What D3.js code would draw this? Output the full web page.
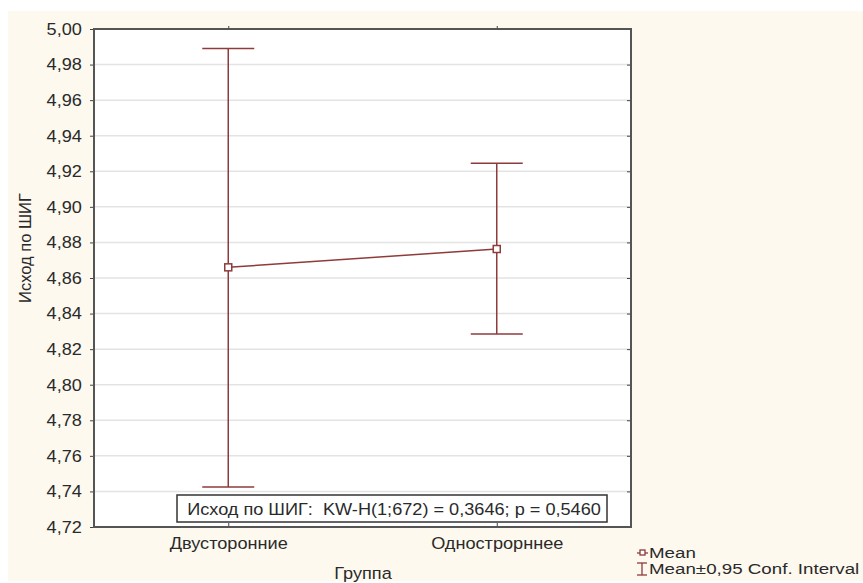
<!DOCTYPE html>
<html>
<head>
<meta charset="utf-8">
<script src="https://cdn.jsdelivr.net/npm/d3@7"></script>
<style>
  body { margin: 0; background: #fff; }
  text { font-family: Arial, "Liberation Sans", sans-serif; }
</style>
</head>
<body>
<div id="chart"></div>
<script>
// data
const groups = ["Двусторонние", "Однострорннее"];
const means = [4.866, 4.8763];
const ciLow = [4.7425, 4.8285];
const ciHigh = [4.989, 4.9245];
const yTicks = [4.72, 4.74, 4.76, 4.78, 4.80, 4.82, 4.84, 4.86, 4.88, 4.90, 4.92, 4.94, 4.96, 4.98, 5.00];
const statText = "Исход по ШИГ:  KW-H(1;672) = 0,3646; p = 0,5460";

const W = 863, H = 583;
const pLeft = 94, pRight = 631, pTop = 29, pBottom = 527;
const red = "#8e3b3b";
const fs = 16.5, sx = 1.1;   // the source text is a bit wide

const svg = d3.select("#chart").append("svg")
    .attr("width", W)
    .attr("height", H);

svg.append("rect")
    .attr("x", 8).attr("y", 11)
    .attr("width", W - 8).attr("height", 570)
    .attr("fill", "#fdf9ef");

svg.append("rect")
    .attr("x", pLeft).attr("y", pTop)
    .attr("width", pRight - pLeft).attr("height", pBottom - pTop)
    .attr("fill", "#fff");

let x = d3.scalePoint()
    .domain(groups)
    .range([pLeft, pRight])
    .padding(0.5);

let y = d3.scaleLinear()
    .domain([4.72, 5.00])
    .range([pBottom, pTop]);

let fmt = d => d3.format(".2f")(d).replace(".", ",");

// put a text at (px,py), stretched a little in x
function label(parent, px, py, str, size, anchor, stretch) {
  return parent.append("text")
      .attr("transform", "translate(" + px + "," + py + ") scale(" + (stretch || sx) + ",1)")
      .attr("text-anchor", anchor || "start")
      .attr("font-size", size || fs)
      .attr("fill", "#2a2a2a")
      .style("white-space", "pre")
      .text(str);
}

// grid
svg.append("g").selectAll("line")
    .data(yTicks.slice(1, -1))
  .enter().append("line")
    .attr("x1", pLeft).attr("x2", pRight)
    .attr("y1", d => y(d)).attr("y2", d => y(d))
    .attr("stroke", "#e3e3e3")
    .attr("stroke-width", 1.5);

// y axis
let yAxis = svg.append("g")
    .attr("transform", "translate(" + pLeft + ",0)")
    .call(d3.axisLeft(y).tickValues(yTicks).tickFormat(fmt).tickSize(4).tickPadding(7));
yAxis.select(".domain").remove();
yAxis.selectAll("line").attr("stroke", "#444");
yAxis.selectAll("text").attr("font-size", fs).attr("fill", "#2a2a2a")
    .attr("transform", "scale(" + sx + ",1)");

// right ticks
let rAxis = svg.append("g")
    .attr("transform", "translate(" + pRight + ",0)")
    .call(d3.axisLeft(y).tickValues(yTicks).tickFormat("").tickSize(4));
rAxis.select(".domain").remove();
rAxis.selectAll("line").attr("stroke", "#444");

// x axis
let xAxis = svg.append("g")
    .attr("transform", "translate(0," + pBottom + ")")
    .call(d3.axisBottom(x).tickSize(-4).tickPadding(10));
xAxis.select(".domain").remove();
xAxis.selectAll("line").attr("stroke", "#444");
xAxis.selectAll("text").attr("font-size", fs).attr("fill", "#2a2a2a")
    .attr("transform", "scale(" + sx + ",1)");

let tAxis = svg.append("g")
    .attr("transform", "translate(0," + pTop + ")")
    .call(d3.axisTop(x).tickSize(3).tickFormat(""));
tAxis.select(".domain").remove();
tAxis.selectAll("line").attr("stroke", "#444");

svg.append("rect")
    .attr("x", pLeft).attr("y", pTop)
    .attr("width", pRight - pLeft).attr("height", pBottom - pTop)
    .attr("fill", "none")
    .attr("stroke", "#555")
    .attr("stroke-width", 2);

// error bars
let eb = svg.append("g").selectAll("g")
    .data(groups)
  .enter().append("g")
    .attr("stroke", red)
    .attr("stroke-width", 1.5);
eb.append("line")
    .attr("x1", d => x(d)).attr("x2", d => x(d))
    .attr("y1", (d, i) => y(ciLow[i])).attr("y2", (d, i) => y(ciHigh[i]));
eb.append("line")
    .attr("x1", d => x(d) - 26).attr("x2", d => x(d) + 26)
    .attr("y1", (d, i) => y(ciHigh[i])).attr("y2", (d, i) => y(ciHigh[i]));
eb.append("line")
    .attr("x1", d => x(d) - 26).attr("x2", d => x(d) + 26)
    .attr("y1", (d, i) => y(ciLow[i])).attr("y2", (d, i) => y(ciLow[i]));

// mean line
let line = d3.line()
    .x((d, i) => x(groups[i]))
    .y(d => y(d));
svg.append("path")
    .datum(means)
    .attr("d", line)
    .attr("fill", "none")
    .attr("stroke", red)
    .attr("stroke-width", 1.5);

svg.append("g").selectAll("rect")
    .data(means)
  .enter().append("rect")
    .attr("x", (d, i) => x(groups[i]) - 3.5)
    .attr("y", d => y(d) - 3.5)
    .attr("width", 7).attr("height", 7)
    .attr("fill", "#fff")
    .attr("stroke", red)
    .attr("stroke-width", 1.5);

// stat box
svg.append("rect")
    .attr("x", 177).attr("y", 495)
    .attr("width", 430).attr("height", 27)
    .attr("fill", "#fff")
    .attr("stroke", "#333")
    .attr("stroke-width", 1.5);
label(svg, 394, 514.5, statText, fs, "middle");

// axis titles
label(svg, 363, 579, "Группа", fs, "middle");
svg.append("text")
    .attr("transform", "translate(31,248) rotate(-90)")
    .attr("text-anchor", "middle")
    .attr("font-size", fs)
    .attr("fill", "#2a2a2a")
    .text("Исход по ШИГ");

// legend
let lg = svg.append("g");
lg.append("line").attr("x1", 637).attr("x2", 648).attr("y1", 553).attr("y2", 553)
    .attr("stroke", red).attr("stroke-width", 1.3);
lg.append("rect").attr("x", 640).attr("y", 550).attr("width", 5).attr("height", 5)
    .attr("fill", "#fff").attr("stroke", red).attr("stroke-width", 1.3);
label(lg, 649, 558, "Mean", 15, "start", 1.25);
lg.append("line").attr("x1", 642).attr("x2", 642).attr("y1", 563).attr("y2", 575)
    .attr("stroke", red).attr("stroke-width", 1.3);
lg.append("line").attr("x1", 637).attr("x2", 647).attr("y1", 563).attr("y2", 563)
    .attr("stroke", red).attr("stroke-width", 1.3);
lg.append("line").attr("x1", 637).attr("x2", 647).attr("y1", 575).attr("y2", 575)
    .attr("stroke", red).attr("stroke-width", 1.3);
label(lg, 649, 574, "Mean±0,95 Conf. Interval", 15, "start", 1.25);
</script>
</body>
</html>
